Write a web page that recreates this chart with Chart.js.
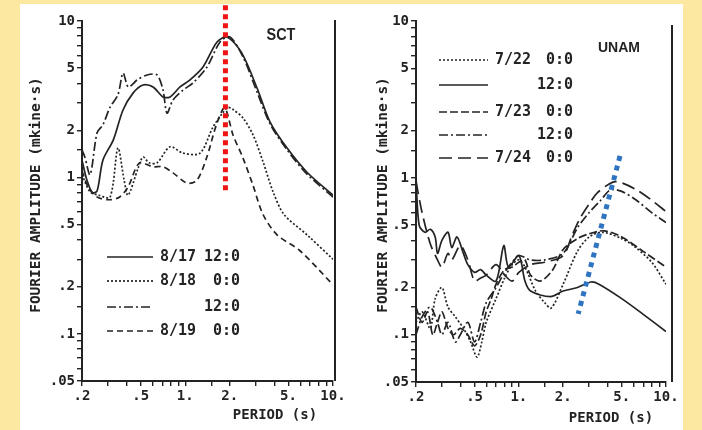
<!DOCTYPE html>
<html>
<head>
<meta charset="utf-8">
<script src="https://cdn.jsdelivr.net/npm/chart.js@4.4.1/dist/chart.umd.min.js"></script>
<style>
  html, body { margin: 0; padding: 0; }
  body { width: 702px; height: 430px; background: #fde8a1; position: relative; overflow: hidden; }
  #hoja { position: absolute; left: 20px; top: 4px; width: 663px; height: 426px; background: #fff; }
  canvas { position: absolute; top: 0; }
  #cSct { left: 0; }
  #cUnam { left: 351px; }
</style>
</head>
<body>
<div id="hoja"></div>
<canvas id="cSct" width="351" height="430"></canvas>
<canvas id="cUnam" width="351" height="430"></canvas>
<script>
// Ejes (los dos paneles usan los mismos)
const yTicks = [10, 5, 2, 1, 0.5, 0.2, 0.1, 0.05];
const yLabels = ['10', '5', '2', '1', '.5', '.2', '.1', '.05'];
const xTicks = [0.2, 0.5, 1, 2, 5, 10];
const xLabels = ['.2', '.5', '1.', '2.', '5.', '10.'];

// SCT
const sct0817_12P = [0.2, 0.216, 0.235, 0.253, 0.277, 0.326, 0.379, 0.443, 0.518, 0.605, 0.707, 0.789, 0.922, 1.077, 1.319, 1.641, 1.917, 2.4, 3.06, 3.75, 4.89, 6.67, 10];
const sct0817_12A = [1.29, 0.96, 0.80, 0.82, 1.29, 1.74, 2.7, 3.46, 3.9, 3.79, 3.27, 3.27, 3.79, 4.2, 5.08, 7.34, 7.9, 6.3, 3.73, 2.26, 1.54, 1.08, 0.77];
const sct0818_00P = [0.2, 0.227, 0.26, 0.31, 0.35, 0.385, 0.41, 0.48, 0.518, 0.57, 0.644, 0.789, 0.966, 1.258, 1.541, 1.801, 1.95, 2.105, 2.46, 2.875, 3.361, 3.93, 4.66, 6.67, 10];
const sct0818_00A = [1.04, 0.81, 0.77, 0.75, 1.54, 0.97, 0.77, 1.15, 1.35, 1.24, 1.24, 1.57, 1.43, 1.43, 2.10, 2.6, 2.8, 2.72, 2.40, 1.87, 1.26, 0.81, 0.58, 0.43, 0.30];
const sct0818_12P = [0.2, 0.209, 0.227, 0.253, 0.277, 0.31, 0.35, 0.379, 0.41, 0.443, 0.471, 0.551, 0.644, 0.707, 0.752, 0.826, 0.966, 1.128, 1.404, 1.719, 2.009, 2.46, 3.06, 3.75, 4.89, 6.67, 10];
const sct0818_12A = [1.5, 1.35, 1.04, 1.93, 2.17, 2.82, 3.37, 4.65, 3.79, 3.96, 4.2, 4.52, 4.52, 3.62, 2.58, 3.13, 3.62, 4.02, 5.08, 7.34, 7.9, 5.89, 3.52, 2.2, 1.5, 1.05, 0.75];
const sct0819_00P = [0.2, 0.22, 0.253, 0.31, 0.36, 0.41, 0.49, 0.6, 0.707, 0.826, 1.03, 1.2, 1.4, 1.64, 1.85, 2.105, 2.46, 2.875, 3.361, 4.18, 5.98, 10];
const sct0819_00A = [1.1, 0.87, 0.75, 0.72, 0.75, 0.87, 1.24, 1.17, 1.17, 1.07, 0.92, 0.96, 1.35, 2.23, 2.78, 1.87, 1.33, 0.89, 0.58, 0.43, 0.34, 0.206];
const sctMarkP = [1.87, 1.87];
const sctMarkA = [12.6, 0.81];
const sctLegendDates = ['8/17', '8/18', '', '8/19'];
const sctLegendTimes = ['12:0', '0:0', '12:0', '0:0'];

// UNAM
const unam0722_00P = [0.2, 0.22, 0.25, 0.27, 0.3, 0.33, 0.37, 0.42, 0.47, 0.52, 0.56, 0.6, 0.7, 0.8, 0.9, 1.0, 1.1, 1.3, 1.5, 1.66, 2.0, 2.5, 3.0, 3.7, 5, 6, 8, 10];
const unam0722_00A = [0.12, 0.14, 0.11, 0.17, 0.2, 0.15, 0.13, 0.11, 0.09, 0.072, 0.09, 0.12, 0.17, 0.23, 0.28, 0.3, 0.27, 0.19, 0.16, 0.148, 0.21, 0.34, 0.42, 0.45, 0.41, 0.37, 0.29, 0.21];
const unam0722_12P = [0.2, 0.21, 0.23, 0.25, 0.27, 0.28, 0.3, 0.33, 0.35, 0.38, 0.42, 0.45, 0.5, 0.55, 0.6, 0.7, 0.79, 0.85, 1.0, 1.1, 1.2, 1.64, 2.0, 2.5, 3.1, 3.5, 5, 7, 10];
const unam0722_12A = [1.0, 0.5, 0.45, 0.47, 0.42, 0.33, 0.40, 0.45, 0.36, 0.42, 0.33, 0.28, 0.25, 0.26, 0.24, 0.22, 0.37, 0.27, 0.32, 0.22, 0.19, 0.175, 0.19, 0.2, 0.217, 0.21, 0.17, 0.135, 0.105];
const unam0723_00P = [0.2, 0.22, 0.24, 0.26, 0.28, 0.3, 0.33, 0.36, 0.4, 0.45, 0.5, 0.55, 0.6, 0.65, 0.7, 0.8, 0.9, 1.0, 1.1, 1.2, 1.4, 1.7, 2.0, 2.5, 3, 3.8, 5, 7, 10];
const unam0723_00A = [0.15, 0.12, 0.14, 0.1, 0.12, 0.14, 0.11, 0.1, 0.11, 0.1, 0.085, 0.1, 0.14, 0.17, 0.21, 0.26, 0.27, 0.29, 0.3, 0.24, 0.22, 0.26, 0.35, 0.41, 0.44, 0.46, 0.42, 0.34, 0.27];
const unam0723_12P = [0.2, 0.22, 0.25, 0.28, 0.3, 0.33, 0.37, 0.4, 0.45, 0.5, 0.55, 0.6, 0.7, 0.8, 0.9, 1.0, 1.2, 1.5, 2.0, 2.5, 3, 3.6, 4.2, 5, 6.3, 8, 10];
const unam0723_12A = [0.1, 0.13, 0.15, 0.12, 0.1, 0.12, 0.09, 0.1, 0.12, 0.09, 0.12, 0.16, 0.2, 0.25, 0.29, 0.32, 0.3, 0.3, 0.33, 0.48, 0.6, 0.72, 0.84, 0.82, 0.72, 0.6, 0.52];
const unam0724_00P = [0.2, 0.22, 0.25, 0.28, 0.3, 0.33, 0.35, 0.4, 0.45, 0.5, 0.55, 0.6, 0.7, 0.8, 0.9, 1.0, 1.2, 1.5, 2.0, 2.3, 2.6, 3.0, 3.4, 4.35, 5, 6.3, 8, 10];
const unam0724_00A = [0.95, 0.6, 0.38, 0.3, 0.27, 0.33, 0.3, 0.37, 0.3, 0.22, 0.23, 0.24, 0.28, 0.24, 0.22, 0.25, 0.28, 0.29, 0.32, 0.43, 0.55, 0.68, 0.8, 0.94, 0.93, 0.84, 0.72, 0.61];
const unamMarkP = [4.87, 2.53];
const unamMarkA = [1.38, 0.136];
const unamLegendDates = ['7/22', '', '7/23', '', '7/24'];
const unamLegendTimes = ['0:0', '12:0', '0:0', '12:0', '0:0'];

const INK = '#232323';
const MONO = "'DejaVu Sans Mono', monospace";
const DASH = { solid: [], dotted: [2, 2], dashdot: [9, 3, 2, 3], dashed: [6, 4], dash: [8, 3], longdash: [13, 6] };

function serie(ps, as, dash) {
  return {
    data: ps.map((p, i) => ({ x: p, y: as[i] })),
    borderColor: INK, borderWidth: 1.7, borderDash: dash,
    pointRadius: 0, tension: 0.3, fill: false
  };
}

function marca(ps, as, color, dash) {
  return {
    data: ps.map((p, i) => ({ x: p, y: as[i] })),
    borderColor: color, borderWidth: 5, borderDash: dash, borderCapStyle: 'butt',
    pointRadius: 0, tension: 0, fill: false, clip: false
  };
}

function etiqueta(valores, textos) {
  return v => {
    const i = valores.findIndex(t => Math.abs(t - v) / t < 1e-6);
    return i >= 0 ? textos[i] : '';
  };
}

// Texto, leyenda y marco derecho que Chart.js no dibuja así
function decor(cfg) {
  return {
    id: 'decor',
    afterDraw(chart) {
      const ctx = chart.ctx, a = chart.chartArea;
      ctx.save();
      ctx.fillStyle = INK;
      ctx.strokeStyle = INK;
      ctx.lineWidth = 2;
      ctx.beginPath();
      ctx.moveTo(a.right + cfg.frameDx, cfg.frameTop);
      ctx.lineTo(a.right + cfg.frameDx, a.bottom);
      ctx.stroke();

      ctx.textBaseline = 'middle';
      ctx.textAlign = 'center';
      ctx.save();
      ctx.translate(cfg.titleX, cfg.titleY);
      ctx.scale(cfg.titleSx, 1);
      ctx.font = cfg.titleFont;
      ctx.fillText(cfg.title, 0, 0);
      ctx.restore();

      ctx.font = `bold 14px ${MONO}`;
      ctx.fillText('PERIOD (s)', cfg.xTitleX, cfg.xTitleY);

      ctx.save();
      ctx.translate(cfg.yTitleX, cfg.yTitleY);
      ctx.rotate(-Math.PI / 2);
      ctx.font = `bold 14.5px ${MONO}`;
      ctx.fillText('FOURIER AMPLITUDE (mkine\u00b7s)', 0, 0);
      ctx.restore();

      ctx.font = `bold 15px ${MONO}`;
      cfg.dates.forEach((fecha, i) => {
        const y = cfg.legendY[i];
        const ds = chart.data.datasets[i + 1];
        ctx.setLineDash(ds.borderDash);
        ctx.lineWidth = ds.borderWidth;
        ctx.beginPath();
        ctx.moveTo(cfg.legendX0, y);
        ctx.lineTo(cfg.legendX1, y);
        ctx.stroke();
        ctx.setLineDash([]);
        ctx.textAlign = 'left';
        ctx.fillText(fecha, cfg.dateX, y);
        ctx.textAlign = 'right';
        ctx.fillText(cfg.times[i], cfg.timeX, y);
      });
      ctx.restore();
    }
  };
}

function eje(min, max, valores, textos, fit) {
  return {
    type: 'logarithmic', min, max,
    afterFit: fit,
    ticks: {
      color: INK, font: { family: MONO, size: 14, weight: 'bold' },
      padding: 2, autoSkip: false, maxRotation: 0, minRotation: 0,
      callback: etiqueta(valores, textos)
    },
    grid: { display: true, drawOnChartArea: false, drawTicks: true, tickLength: 5, color: INK, lineWidth: 1.4 },
    border: { display: true, color: INK, width: 2 }
  };
}

function crearPanel(id, datasets, cfg) {
  return new Chart(document.getElementById(id), {
    type: 'line',
    data: { datasets },
    options: {
      responsive: false, animation: false, events: [],
      layout: { padding: { left: 0, top: 21, right: cfg.padRight, bottom: 0 } },
      plugins: { legend: { display: false }, tooltip: { enabled: false } },
      scales: {
        x: eje(0.2, 10, xTicks, xLabels, s => { s.height = cfg.xAxisH; }),
        y: eje(0.05, 10, yTicks, yLabels, s => { s.width = cfg.yAxisW; })
      }
    },
    plugins: [decor(cfg)]
  });
}

crearPanel('cSct', [
  marca(sctMarkP, sctMarkA, '#f01414', [5, 4]),
  serie(sct0817_12P, sct0817_12A, DASH.solid),
  serie(sct0818_00P, sct0818_00A, DASH.dotted),
  serie(sct0818_12P, sct0818_12A, DASH.dashdot),
  serie(sct0819_00P, sct0819_00A, DASH.dashed)
], {
  padRight: 18, xAxisH: 49, yAxisW: 82,
  frameDx: 2, frameTop: 20,
  title: 'SCT', titleX: 281, titleY: 35, titleSx: 0.85, titleFont: "bold 17px 'Liberation Sans', sans-serif",
  xTitleX: 275, xTitleY: 415, yTitleX: 36, yTitleY: 195,
  dates: sctLegendDates, times: sctLegendTimes,
  legendY: [257, 281, 307, 331], legendX0: 107, legendX1: 153, dateX: 160, timeX: 240
});

crearPanel('cUnam', [
  marca(unamMarkP, unamMarkA, '#2f74c0', [5, 5]),
  serie(unam0722_00P, unam0722_00A, DASH.dotted),
  serie(unam0722_12P, unam0722_12A, DASH.solid),
  serie(unam0723_00P, unam0723_00A, DASH.dash),
  serie(unam0723_12P, unam0723_12A, DASH.dashdot),
  serie(unam0724_00P, unam0724_00A, DASH.longdash)
], {
  padRight: 36, xAxisH: 48, yAxisW: 65,
  frameDx: 6, frameTop: 25,
  title: 'UNAM', titleX: 268, titleY: 48, titleSx: 1, titleFont: "bold 14px 'Liberation Sans', sans-serif",
  xTitleX: 260, xTitleY: 418, yTitleX: 32, yTitleY: 195,
  dates: unamLegendDates, times: unamLegendTimes,
  legendY: [60, 85, 112, 135, 158], legendX0: 88, legendX1: 137, dateX: 144, timeX: 222
});
</script>
</body>
</html>
